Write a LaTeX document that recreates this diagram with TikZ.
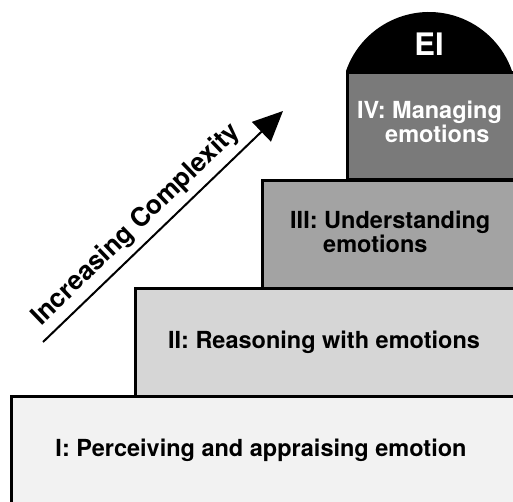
\documentclass[tikz,border=0pt]{standalone}
\usepackage{fontspec}
\setmainfont{TeX Gyre Heros}
\usetikzlibrary{arrows.meta}
\definecolor{lvI}{HTML}{F2F2F2}
\definecolor{lvII}{HTML}{D6D6D6}
\definecolor{lvIII}{HTML}{A3A3A3}
\definecolor{lvIV}{HTML}{7A7A7A}
\tikzset{
  stepbox/.style={draw=black, line width=2.6pt, anchor=north west, inner sep=0pt, minimum width=#1},
  steptext/.style={font=\bfseries\fontsize{23.5}{23.5}\selectfont, inner sep=0pt, align=left},
}
\begin{document}
\begin{tikzpicture}[x=1pt,y=-1pt]
\useasboundingbox (0,0) rectangle (513,501);
\clip (0,0) rectangle (513,501);
\fill[white] (0,0) rectangle (513,501);
% steps
\node[stepbox=530pt, fill=lvI, minimum height=130pt] (b1) at (10,395) {};
\node[stepbox=400pt, fill=lvII, minimum height=108pt] (b2) at (134,287) {};
\node[stepbox=270pt, fill=lvIII, minimum height=108pt] (b3) at (261,179) {};
\node[stepbox=190pt, fill=lvIV, minimum height=107pt] (b4) at (346,71) {};
% dome
\fill[black] (346,71) arc[start angle=-160.8, end angle=-19.2, radius=87.9] -- cycle;
\node[font=\bfseries\fontsize{31}{31}\selectfont, text=white, inner sep=0pt, anchor=base] (ei) at (429,55) {EI};
% texts
\node[steptext, anchor=base] (t1) at (261,456) {I: Perceiving and appraising emotion};
\node[steptext, anchor=base] (t2) at (324,348) {II: Reasoning with emotions};
\node[steptext, anchor=base west] (t3) at (290,252) {III: Understanding\\\hspace*{33pt}emotions};
\node[steptext, anchor=base west, text=white] (t4) at (357,142) {IV: Managing\\\hspace*{28pt}emotions};
% arrow
\coordinate (a0) at (43,342);
\coordinate (a1) at (283,111);
\draw[line width=2pt, -{Triangle[length=30pt,width=27pt]}] (a0) -- (a1);
\node[font=\bfseries\fontsize{26}{26}\selectfont, inner sep=0pt, anchor=base, rotate=43.9] (lab) at (141,230) {Increasing Complexity};
\end{tikzpicture}
\end{document}
